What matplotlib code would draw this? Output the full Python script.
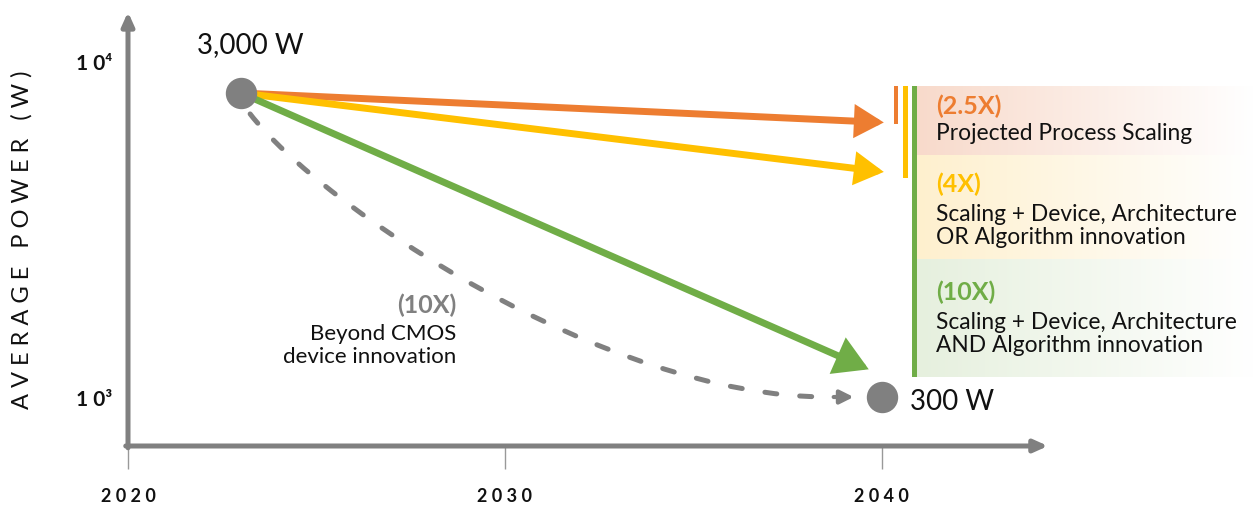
import matplotlib.pyplot as plt
import numpy as np
from matplotlib.path import Path
from matplotlib.patches import PathPatch, Rectangle
from matplotlib.ticker import FixedLocator

plt.rcParams['font.family'] = ['Lato', 'DejaVu Sans']

# roadmap start and target
years = [2023, 2040]
watts = [3000, 300]
point_labels = ['3,000 W', '300 W']

# the three scaling scenarios, all starting from 2023 / 3,000 W
scenario_names = ['(2.5X)', '(4X)', '(10X)']
scenario_text = ['Projected Process Scaling',
                 'Scaling + Device, Architecture\nOR Algorithm innovation',
                 'Scaling + Device, Architecture\nAND Algorithm innovation']
scenario_end_year = [2040.05, 2040.05, 2039.65]
scenario_end_watts = [2400, 1650, 370]
scenario_colors = ['#ED7D31', '#FFC000', '#70AD47']
scenario_tints = ['#F8DACB', '#FEF0CE', '#E6F0DE']

# beyond-CMOS path (cubic bezier control points)
cmos_years = [2023.24, 2025.1, 2032.66, 2038.57]
cmos_watts = [2560, 1284, 300, 300]
cmos_name = '(10X)'
cmos_text = 'Beyond CMOS\ndevice innovation'

year_ticks = [2020, 2030, 2040]
power_ticks = [3822, 300]
power_tick_labels = ['1 0⁴', '1 0³']

GRAY = '#808080'
INK = '#111111'

fig = plt.figure(figsize=(12.54, 5.06), dpi=100)

# overlay in pixel units for the legend panel and free text
ov = fig.add_axes([0, 0, 1, 1])
ov.axis('off')

ax = fig.add_axes([128 / 1254, 59 / 506, 1 - 128 / 1254, 447 / 506])
ax.patch.set_visible(False)
ax.set_yscale('log')
ax.set_xlim(2020, 2049.87)
ax.set_ylim(207, 6114)
for s in ax.spines.values():
    s.set_visible(False)

# axis lines with arrow heads
axis_arrow = dict(arrowstyle='-|>,head_length=8,head_width=3.6', lw=3.6,
                  color=GRAY, shrinkA=0, shrinkB=0, mutation_scale=1)
ax.annotate('', xy=(0, 0.971), xytext=(0, -0.004), xycoords='axes fraction',
            arrowprops=axis_arrow, annotation_clip=False)
ax.annotate('', xy=(0.817, 0), xytext=(-0.002, 0), xycoords='axes fraction',
            arrowprops=axis_arrow, annotation_clip=False)

ax.set_xticks(year_ticks, labels=[' '.join(str(y)) for y in year_ticks],
              fontweight='bold', fontsize=13, color=INK)
ax.tick_params(axis='x', direction='out', length=16.5, width=1.0,
               color='#999999', pad=13)

ax.set_yticks(power_ticks, labels=power_tick_labels, fontweight='bold',
              fontsize=15, color=INK)
ax.yaxis.set_minor_locator(FixedLocator([]))
ax.tick_params(axis='y', length=0, pad=11)

ov.text(22, 240, 'A V E R A G E   P O W E R   ( W )', rotation=90,
        fontsize=17, ha='center', va='center', color=INK)

# beyond-CMOS dashed curve
verts = list(zip(cmos_years, cmos_watts))
cmos_path = Path(verts, [Path.MOVETO, Path.CURVE4, Path.CURVE4, Path.CURVE4])
ax.add_patch(PathPatch(cmos_path, fill=False, lw=3.6, edgecolor=GRAY,
                       linestyle=(0, (2.4, 4.6)), capstyle='round', zorder=2))
ax.annotate('', xy=(2039.25, watts[1]), xytext=(2038.72, watts[1]),
            arrowprops=dict(arrowstyle='-|>,head_length=8,head_width=4', lw=3.0,
                            color=GRAY, shrinkA=0, shrinkB=0, mutation_scale=1,
                            capstyle='round'))

# scenario arrows
heads = [(14, 8), (14, 8), (17, 10)]
for ey, ew, c, (hl, hw) in zip(scenario_end_year, scenario_end_watts,
                               scenario_colors, heads):
    ax.annotate('', xy=(ey, ew), xytext=(years[0], watts[0]),
                arrowprops=dict(arrowstyle=f'-|>,head_length={hl},head_width={hw}',
                                lw=5, color=c, shrinkA=0, shrinkB=0,
                                mutation_scale=1, joinstyle='miter'),
                zorder=3)

# start / end points
ax.plot(years, watts, 'o', ms=21.6, color=GRAY, zorder=5, clip_on=False)
ax.annotate(point_labels[0], xy=(years[0], watts[0]), xytext=(6.5, 35),
            textcoords='offset points', ha='center', va='center',
            fontsize=20, color=INK)
ax.annotate(point_labels[1], xy=(years[1], watts[1]), xytext=(20, -3),
            textcoords='offset points', ha='left', va='center',
            fontsize=20, color=INK)

ov.text(456, 305, cmos_name, ha='right', va='center', fontsize=18,
        fontweight='bold', color=GRAY)
ov.text(456, 345.5, cmos_text, ha='right', va='center', fontsize=16,
        color=INK, linespacing=1.15, multialignment='right')

# legend panel: gradient bands, colour bars and text
bands = [(87, 156), (156, 260), (260, 378)]
for (top, bot), tint in zip(bands, scenario_tints):
    rgb = np.array(plt.matplotlib.colors.to_rgb(tint))
    t = np.linspace(0, 1, 256)[:, None]
    grad = (rgb[None, :] * (1 - t) + np.ones(3)[None, :] * t)[None, :, :]
    ov.imshow(grad, extent=(917, 1254, bot, top), aspect='auto', zorder=0)

bar_spans = [(894, 898, 87, 125), (903, 908, 87, 179), (912, 917, 87, 378)]
for (x0, x1, y0, y1), c in zip(bar_spans, scenario_colors):
    ov.add_patch(Rectangle((x0, y0), x1 - x0, y1 - y0, color=c, lw=0, zorder=1))

name_y = [106, 184, 292]
text_y = [133, 226, 334]
for nm, tx, c, ny, ty in zip(scenario_names, scenario_text, scenario_colors,
                             name_y, text_y):
    ov.text(936, ny, nm, ha='left', va='center', fontsize=18,
            fontweight='bold', color=c)
    ov.text(936, ty, tx, ha='left', va='center', fontsize=16.4, color=INK,
            linespacing=1.15)

ov.set_xlim(0, 1254)
ov.set_ylim(506, 0)

fig.savefig('out.png', dpi=100)
